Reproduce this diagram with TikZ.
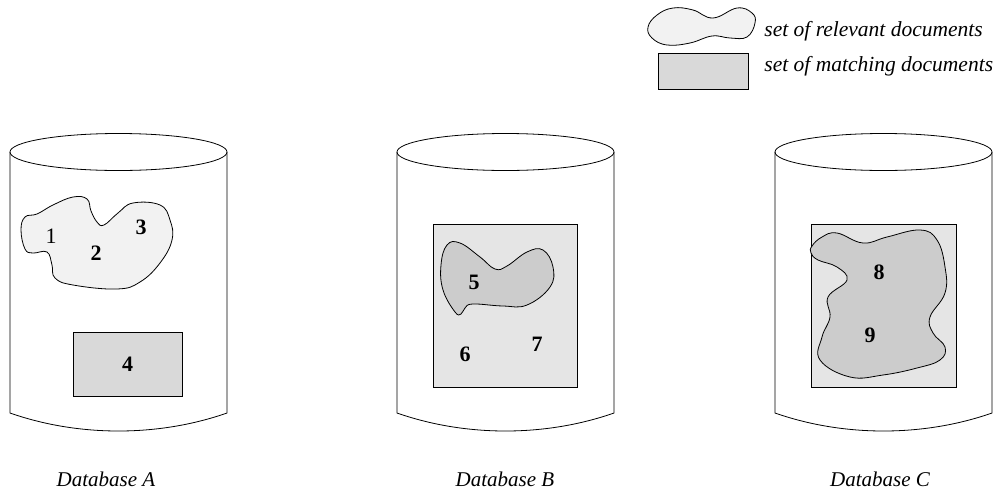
\documentclass[tikz,border=0pt]{standalone}
\usepackage{fontspec}
\setmainfont{Liberation Serif}

\begin{document}
\begin{tikzpicture}[
                x=1pt, y=-1pt,
                line width=0.8pt,
                relevant/.style={draw, fill=black!5, smooth cycle, tension=0.7},
                inner relevant/.style={draw, fill=black!20, smooth cycle, tension=0.7},
                matching/.style={draw, fill=black!15},
                inner matching/.style={draw, fill=black!10},
                legendtext/.style={anchor=base west, inner sep=0pt,
                        font=\fontsize{21.5}{21.5}\selectfont\itshape},
                dbname/.style={anchor=base, inner sep=0pt,
                        font=\fontsize{21}{21}\selectfont\itshape},
                num/.style={inner sep=0pt,
                        font=\fontsize{22}{22}\selectfont\bfseries}
            ]

            \useasboundingbox (0,0) rectangle (998,493);

            % the three databases
            \foreach \cx in {118.5, 505.5, 883.5} {
                    \draw (\cx-108.5,152) -- (\cx-108.5,413)
                        .. controls (\cx-40,437) and (\cx+40,437) .. (\cx+108.5,413)
                        -- (\cx+108.5,152);
                    \draw (\cx,152) ellipse [x radius=108.5pt, y radius=18.5pt];
                }

            % legend
            \draw[relevant] plot coordinates {(648,27) (657,15) (673,8) (693,10)
                    (713,18) (737,8) (752,13) (755,23) (747,37) (730,38) (712,36)
                    (690,43) (667,45) (652,38)};
            \draw[matching] (658,53) rectangle (748,89);
            \node[legendtext] (relevant) at (764,36) {set of relevant documents};
            \node[legendtext] (matching) at (764,71) {set of matching documents};

            % Database A
            \draw[relevant] plot coordinates {(21,230) (25,217) (37,214) (53,205)
                    (73,197) (87,199) (91,211) (97,222) (104,225) (118,213)
                    (133,203) (160,205) (170,220) (172,240) (160,263) (140,282)
                    (117,289) (73,285) (55,278) (52,265) (47,252) (33,253)
                    (25,249)};
            \draw[matching] (73,332) rectangle (182,396);
            \node[num, font=\fontsize{22}{22}\selectfont] (n1) at (51,236) {1};
            \node[num] (n2) at (96,253) {2};
            \node[num] (n3) at (141,227) {3};
            \node[num] (n4) at (127.5,364) {4};

            % Database B
            \draw[inner matching] (433,224) rectangle (577,387);
            \draw[inner relevant] plot coordinates {(441,265) (447,245) (460,243)
                    (480,257) (495,269) (507,266) (527,252) (543,250) (553,267)
                    (550,287) (527,305) (503,306) (473,304) (465,308) (461,314)
                    (455,312) (443,290)};
            \node[num] (n5) at (474,282) {5};
            \node[num] (n6) at (465,354) {6};
            \node[num] (n7) at (537,344) {7};

            % Database C
            \draw[inner matching] (811,224) rectangle (956,387);
            \draw[inner relevant] plot coordinates {(812,246) (822,237) (837,233)
                    (863,243) (887,237) (920,230) (937,240) (945,267) (945,293)
                    (930,317) (933,333) (945,347) (940,360) (917,368) (883,375)
                    (850,377) (820,360) (822,337) (830,317) (828,297) (847,280)
                    (837,267) (818,260) (811,253)};
            \node[num] (n8) at (879,272) {8};
            \node[num] (n9) at (870,335) {9};

            \node[dbname] (dbA) at (106,486) {Database A};
            \node[dbname] (dbB) at (505,486) {Database B};
            \node[dbname] (dbC) at (880,486) {Database C};

        \end{tikzpicture}
\end{document}
